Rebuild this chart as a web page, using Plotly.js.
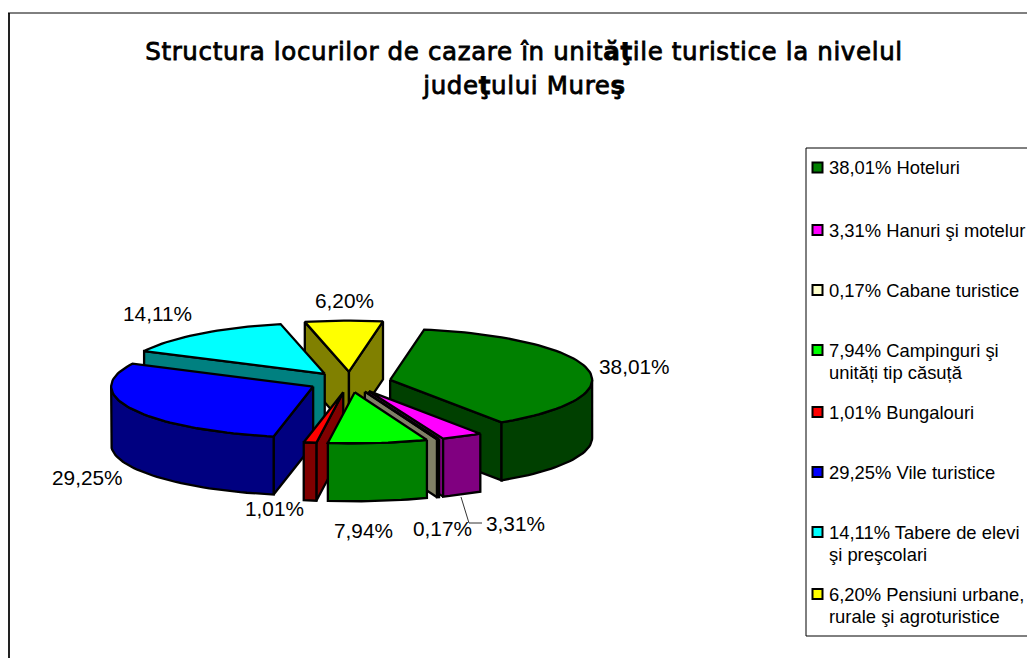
<!DOCTYPE html>
<html><head><meta charset="utf-8">
<script src="https://cdn.plot.ly/plotly-3.0.1.min.js"></script>
<style>html,body{margin:0;padding:0;background:#fff;overflow:hidden}
.gtitle, .annotation[data-index="0"] text{stroke:#000;stroke-width:0.8px;letter-spacing:0.64px}</style>
</head><body><div id="chart" style="width:1027px;height:658px"></div>
<script>
// ---- data ----
const titleLine1 = 'Structura locurilor de cazare în unit<b>ăţ</b>ile turistice la nivelul';
const titleLine2 = 'jude<b>ţ</b>ului Mure<b>ş</b>';
const values = [38.01, 3.31, 0.17, 7.94, 1.01, 29.25, 14.11, 6.20];
const legendNames = ['Hoteluri', 'Hanuri şi motelur', 'Cabane turistice', 'Campinguri şi<br>unități tip căsuță',
  'Bungalouri', 'Vile turistice', 'Tabere de elevi<br>şi preşcolari', 'Pensiuni urbane,<br>rurale şi agroturistice'];
const topColors  = ['#008000', '#FF00FF', '#FFFFCC', '#00FF00', '#FF0000', '#0000FF', '#00FFFF', '#FFFF00'];
const sideColors = ['#004000', '#800080', '#808066', '#008000', '#800000', '#000080', '#008080', '#808000'];

// ---- layout of the pie (pixels of the page: the axes run 0..1027 and 658..0) ----
const CX = 350, CY = 382, RX = 202, RY = 51, DEPTH = 58, EXPLODE = 0.203, START_DEG = 9.7;
const drawOrder = [7, 6, 0, 5, 4, 1, 2, 3];
const labelX = [634, 515, 442, 363, 274.5, 87, 157, 344];
const labelY = [366, 523, 528, 530, 508, 477, 313, 300];
const legendY = [167.5, 230, 290, 350, 412, 472, 532, 594];
const LEGEND_LEFT = 806, LEGEND_TOP = 148, LEGEND_BOTTOM = 636, LEGEND_LINE = 22;

const rad = d => d * Math.PI / 180;
const traces = [];
function poly(xs, ys, fill) {
  traces.push({type:'scatter', mode:'lines', x:xs.concat(xs[0]), y:ys.concat(ys[0]), fill:'toself', fillcolor:fill,
    line:{color:'#000', width:2.3, shape:'linear'}, hoverinfo:'skip', showlegend:false});
}
const total = values.reduce((a, b) => a + b, 0);
let acc = START_DEG;
const slices = values.map((v, i) => {
  const s = acc, e = acc + v / total * 360; acc = e;
  const m = (s + e) / 2;
  return {i, s, e, ax: CX + EXPLODE * RX * Math.sin(rad(m)), ay: CY - EXPLODE * RY * Math.cos(rad(m))};
});
function rim(sl, deg) { return [sl.ax + RX * Math.sin(rad(deg)), sl.ay - RY * Math.cos(rad(deg))]; }
function arc(sl, a, b) {
  const pts = [], n = Math.max(2, Math.ceil(Math.abs(b - a) / 2));
  for (let k = 0; k <= n; k++) pts.push(rim(sl, a + (b - a) * k / n));
  return pts;
}
function radial(sl, deg) {
  const p = rim(sl, deg);
  poly([sl.ax, p[0], p[0], sl.ax], [sl.ay, p[1], p[1] + DEPTH, sl.ay + DEPTH], sideColors[sl.i]);
}
drawOrder.forEach(i => {
  const sl = slices[i];
  const sinS = Math.sin(rad(sl.s)), sinE = Math.sin(rad(sl.e));
  if (sinS < 0) radial(sl, sl.s);
  if (sinE > 0) radial(sl, sl.e);
  const a = Math.max(sl.s, 90), b = Math.min(sl.e, 270);
  if (b > a) {
    const up = arc(sl, a, b), down = up.slice().reverse();
    poly(up.map(p => p[0]).concat(down.map(p => p[0])),
         up.map(p => p[1]).concat(down.map(p => p[1] + DEPTH)), sideColors[i]);
  }
  const top = arc(sl, sl.s, sl.e);
  poly([sl.ax].concat(top.map(p => p[0])), [sl.ay].concat(top.map(p => p[1])), topColors[i]);
});

// leader line of the small slice label
traces.push({type:'scatter', mode:'lines', x:[461, 469, 482], y:[497, 523, 523],
  line:{color:'#333', width:1}, hoverinfo:'skip', showlegend:false});

// legend swatches
traces.push({type:'scatter', mode:'markers', x:values.map(() => 817.5), y:legendY,
  marker:{symbol:'square', size:10, color:topColors, line:{color:'#000', width:2}}, hoverinfo:'skip', showlegend:false});

const fmt = v => v.toFixed(2).replace('.', ',') + '%';
const titleFont = {family:'"DejaVu Sans", Verdana, sans-serif', size:24.5, color:'#000'};
const annotations = [{x:524, y:85, xref:'x', yref:'y', text:titleLine2, showarrow:false,
  xanchor:'center', yanchor:'middle', font:titleFont}];
values.forEach((v, i) => {
  annotations.push({x:labelX[i], y:labelY[i], xref:'x', yref:'y', text:fmt(v), showarrow:false,
    xanchor:'center', yanchor:'middle', font:{family:'"Liberation Sans", Arial, sans-serif', size:20.8, color:'#000'}});
  (fmt(v) + ' ' + legendNames[i]).split('<br>').forEach((line, k) => {
    annotations.push({x:827, y:legendY[i] + k * LEGEND_LINE, xref:'x', yref:'y', text:line, showarrow:false,
      xanchor:'left', yanchor:'middle', align:'left', font:{family:'"Liberation Sans", Arial, sans-serif', size:18.4, color:'#000'}});
  });
});

const blk = {color:'#000', width:1};
const layout = {
  width:1027, height:658, margin:{l:0, r:0, t:0, b:0}, paper_bgcolor:'#fff', plot_bgcolor:'#fff', showlegend:false,
  title:{text:titleLine1, x:524/1027, xanchor:'center', y:0.9225, yanchor:'middle', font:titleFont},
  xaxis:{range:[0,1027], visible:false, fixedrange:true},
  yaxis:{range:[658,0], visible:false, fixedrange:true},
  shapes:[
    {type:'line', xref:'x', yref:'y', x0:9, x1:9, y0:13, y1:658, line:{color:'#222', width:2}},
    {type:'line', xref:'x', yref:'y', x0:8, x1:1027, y0:13, y1:13, line:blk},
    {type:'rect', xref:'x', yref:'y', x0:LEGEND_LEFT, x1:1040, y0:LEGEND_TOP, y1:LEGEND_BOTTOM, line:blk, fillcolor:'rgba(0,0,0,0)'}
  ],
  annotations
};
Plotly.newPlot('chart', traces, layout, {displayModeBar:false, staticPlot:true});
</script></body></html>
